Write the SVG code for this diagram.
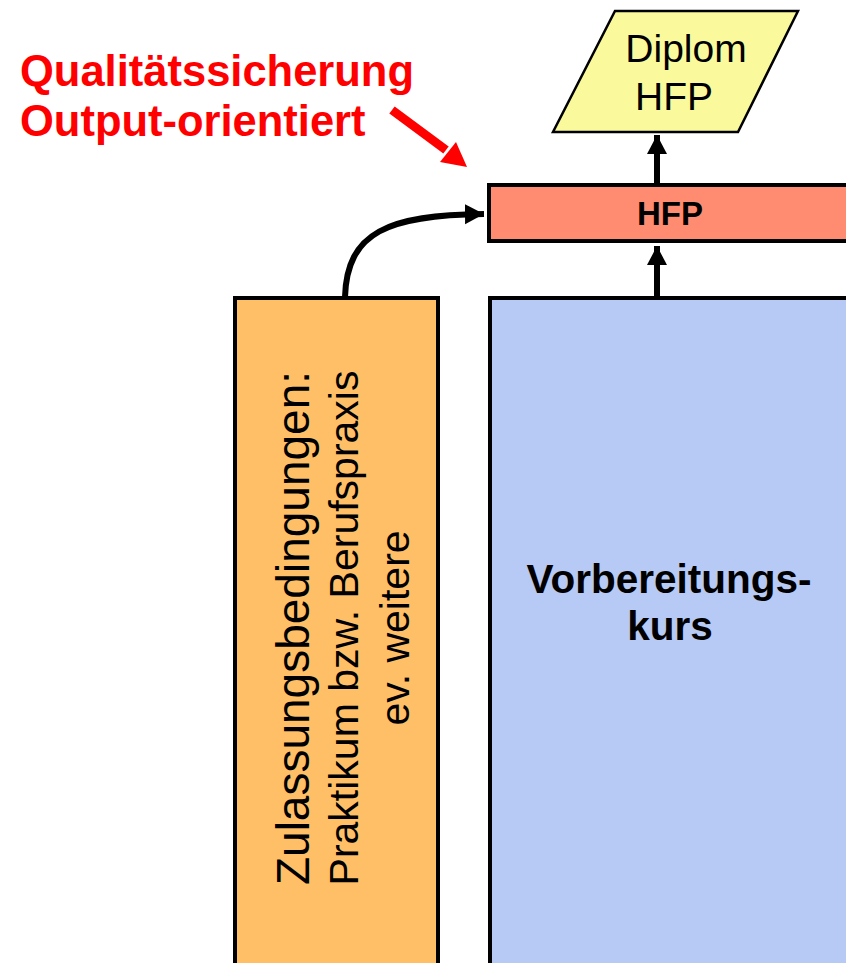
<svg xmlns="http://www.w3.org/2000/svg" width="846" height="963" viewBox="0 0 846 963">
<style>
  .box { stroke: #000; stroke-width: 4; }
  .reg { font-family: "Liberation Sans", Arial, sans-serif; fill: #000; }
  .bold { font-family: "Liberation Sans", Arial, sans-serif; font-weight: bold; fill: #000; }
  .red { font-family: "Liberation Sans", Arial, sans-serif; font-weight: bold; fill: #FF0000; font-size: 43.5px; }
  .conn { fill: none; stroke: #000; stroke-width: 6; }
</style>
<defs>
  <marker id="ah" markerUnits="userSpaceOnUse" markerWidth="22" markerHeight="22" refX="19" refY="11" orient="auto">
    <path d="M0,1 L19,11 L0,21 Z" fill="#000"/>
  </marker>
</defs>
<rect width="846" height="963" fill="#FFFFFF"/>

<g id="label-qs">
  <text class="red" x="20" y="86">Qualitätssicherung</text>
  <text class="red" x="20" y="136">Output-orientiert</text>
</g>

<g id="diplom">
  <polygon points="615,11 798,11 738,132 553,132" fill="#FAFA9C" stroke="#000" stroke-width="2.5"/>
  <text class="reg" x="686" y="62" font-size="39" text-anchor="middle">Diplom</text>
  <text class="reg" x="674" y="110" font-size="39" text-anchor="middle">HFP</text>
</g>

<g id="hfp">
  <rect class="box" x="489" y="185" width="400" height="56" fill="#FF8C70"/>
  <text class="bold" x="670" y="225" font-size="33" text-anchor="middle">HFP</text>
</g>

<g id="zulassung">
  <rect class="box" x="235" y="298" width="203" height="700" fill="#FFBF66"/>
  <g transform="translate(0,628) rotate(-90)">
    <text class="reg" x="0" y="309" font-size="46" text-anchor="middle">Zulassungsbedingungen:</text>
    <text class="reg" x="0" y="358" font-size="41" text-anchor="middle">Praktikum bzw. Berufspraxis</text>
    <text class="reg" x="0" y="409" font-size="41" text-anchor="middle">ev. weitere</text>
  </g>
</g>

<g id="vorbereitung">
  <rect class="box" x="490" y="298" width="400" height="700" fill="#B7C9F5"/>
  <text class="bold" x="669" y="593" font-size="40.5" text-anchor="middle">Vorbereitungs-</text>
  <text class="bold" x="670" y="640" font-size="40.5" text-anchor="middle">kurs</text>
</g>

<g id="connectors">
  <path class="conn" d="M657,296 L657,246" marker-end="url(#ah)"/>
  <path class="conn" d="M657,183 L657,135" marker-end="url(#ah)"/>
  <path class="conn" d="M345,297 C347,232 388,215 484,214" marker-end="url(#ah)"/>
  <line x1="392" y1="110" x2="446" y2="150" stroke="#FF0000" stroke-width="9"/>
  <polygon points="467,167 440,162 456,142" fill="#FF0000"/>
</g>
</svg>
